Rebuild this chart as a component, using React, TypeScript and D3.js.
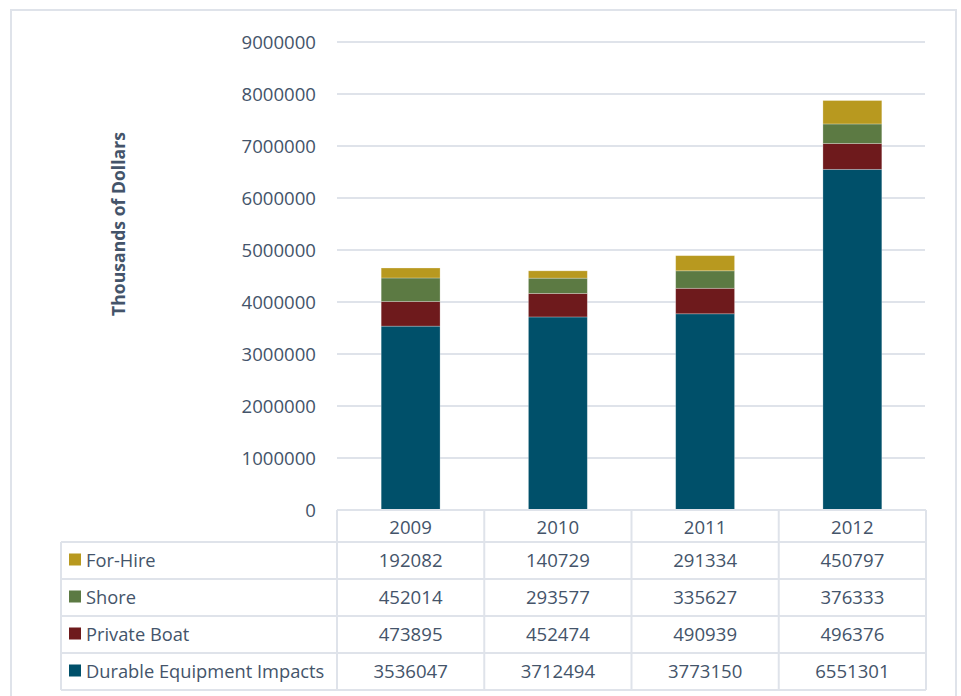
import React from "react";
import * as d3 from "d3";

const years = ["2009", "2010", "2011", "2012"];
const seriesNames = ["Durable Equipment Impacts", "Private Boat", "Shore", "For-Hire"];
const durable = [3536047, 3712494, 3773150, 6551301];
const privateBoat = [473895, 452474, 490939, 496376];
const shore = [452014, 293577, 335627, 376333];
const forHire = [192082, 140729, 291334, 450797];
const yTicks = [0, 1000000, 2000000, 3000000, 4000000, 5000000, 6000000, 7000000, 8000000, 9000000];
const colors = ["#00506a", "#6e1a1c", "#5c7a43", "#b8991f"];
// table row order (top to bottom)
const tableOrder = [3, 2, 1, 0];

const seriesValues = [durable, privateBoat, shore, forHire];

export default function App() {
  const W = 961, H = 696;
  const left = 337, right = 926, top = 42, bottom = 510;
  const font = "'Open Sans', Lato, sans-serif";
  const textColor = "#44546a";
  const gridColor = "#dfe3ea";
  const numSize = 18.6;
  const labelSize = 18.3;

  const rows = years.map((y, i) => {
    const o: any = { year: y };
    seriesNames.forEach((s, k) => (o[s] = seriesValues[k][i]));
    return o;
  });
  const stacked = d3.stack<any>().keys(seriesNames)(rows);

  const x = d3.scaleBand().domain(years).range([left, right]).paddingInner(0).paddingOuter(0);
  const y = d3.scaleLinear().domain([0, 9000000]).range([bottom, top]);
  const barW = x.bandwidth() * 0.4;

  const headerTop = bottom, headerBottom = 542;
  const rowH = 37;
  const tableLeft = 61;
  const rowTop = (r: number) => headerBottom + r * rowH;
  const tableBottom = rowTop(4);

  return (
    <svg width={W} height={H} style={{ position: "absolute", left: 0, top: 0 }}>
      <rect x={0} y={0} width={W} height={H} fill="#ffffff" />
      <rect x={11} y={10} width={945} height={700} fill="none" stroke={gridColor} strokeWidth={2} />
      {yTicks.map((t) => (
        <g key={t}>
          {t > 0 && (
            <line x1={left} x2={right - 1} y1={y(t)} y2={y(t)} stroke={gridColor} strokeWidth={2} />
          )}
          <text
            x={316}
            y={y(t)}
            dy="0.36em"
            textAnchor="end"
            fontFamily={font}
            fontSize={numSize}
            fill={textColor}
          >
            {t}
          </text>
        </g>
      ))}
      <text
        transform={`translate(125,224) rotate(-90)`}
        textAnchor="middle"
        fontFamily={font}
        fontSize={17.6}
        fontWeight="bold"
        fill={textColor}
      >
        Thousands of Dollars
      </text>
      {stacked.map((s, k) => (
        <g key={s.key} fill={colors[k]}>
          {s.map((d, i) => (
            <rect
              key={i}
              x={(x(years[i]) as number) + (x.bandwidth() - barW) / 2}
              y={y(d[1])}
              width={barW}
              height={y(d[0]) - y(d[1])}
              stroke="#ffffff"
              strokeOpacity={0.35}
              strokeWidth={0.75}
            />
          ))}
        </g>
      ))}
      {/* table */}
      <g stroke={gridColor} strokeWidth={2} fill="none">
        <line x1={left} x2={right} y1={headerTop} y2={headerTop} />
        <line x1={tableLeft} x2={right} y1={headerBottom} y2={headerBottom} />
        {[1, 2, 3, 4].map((r) => (
          <line key={r} x1={tableLeft} x2={right} y1={rowTop(r)} y2={rowTop(r)} />
        ))}
        <line x1={tableLeft} x2={tableLeft} y1={headerBottom} y2={tableBottom} />
        {years.map((yr) => (
          <line key={yr} x1={x(yr) as number} x2={x(yr) as number} y1={headerTop} y2={tableBottom} />
        ))}
        <line x1={right} x2={right} y1={headerTop} y2={tableBottom} />
      </g>
      {years.map((yr) => (
        <text
          key={yr}
          x={(x(yr) as number) + x.bandwidth() / 2}
          y={(headerTop + headerBottom) / 2 + 1}
          dy="0.36em"
          textAnchor="middle"
          fontFamily={font}
          fontSize={numSize}
          fill={textColor}
        >
          {yr}
        </text>
      ))}
      {tableOrder.map((k, r) => {
        const cy = rowTop(r) + rowH / 2;
        return (
          <g key={k}>
            <rect x={69} y={cy - 7} width={12} height={12} fill={colors[k]} />
            <text x={86} y={cy} dy="0.36em" fontFamily={font} fontSize={labelSize} fill={textColor}>
              {seriesNames[k]}
            </text>
            {years.map((yr, i) => (
              <text
                key={yr}
                x={(x(yr) as number) + x.bandwidth() / 2}
                y={cy}
                dy="0.36em"
                textAnchor="middle"
                fontFamily={font}
                fontSize={numSize}
                fill={textColor}
              >
                {seriesValues[k][i]}
              </text>
            ))}
          </g>
        );
      })}
    </svg>
  );
}
